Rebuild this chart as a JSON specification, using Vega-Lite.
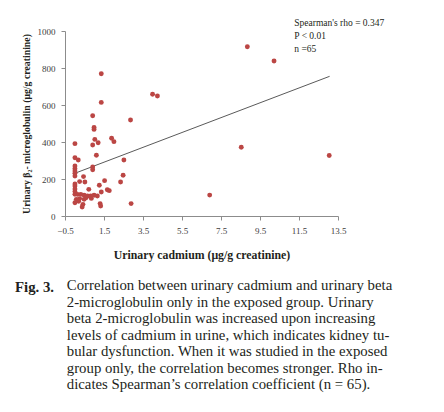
{
  "$schema": "https://vega.github.io/schema/vega-lite/v6.json",
  "width": 273,
  "height": 185,
  "autosize": {"type": "none"},
  "padding": {"left": 65, "top": 31, "right": 106, "bottom": 196},
  "background": "white",
  "config": {
    "view": {"stroke": null},
    "font": "Liberation Serif",
    "axis": {"labelOverlap": false, "labelBound": false, "labelFlush": false, "grid": false}
  },
  "title": {
    "text": "Fig. 3.",
    "subtitle": [
      "\u200b\u00a0\u00a0\u00a0\u00a0\u00a0\u00a0\u00a0\u00a0\u00a0\u00a0\u00a0\u00a0\u00a0\u00a0Correlation between urinary cadmium and urinary beta",
      "\u200b\u00a0\u00a0\u00a0\u00a0\u00a0\u00a0\u00a0\u00a0\u00a0\u00a0\u00a0\u00a0\u00a0\u00a02-microglobulin only in the exposed group. Urinary",
      "\u200b\u00a0\u00a0\u00a0\u00a0\u00a0\u00a0\u00a0\u00a0\u00a0\u00a0\u00a0\u00a0\u00a0\u00a0beta 2-microglobulin was increased upon increasing",
      "\u200b\u00a0\u00a0\u00a0\u00a0\u00a0\u00a0\u00a0\u00a0\u00a0\u00a0\u00a0\u00a0\u00a0\u00a0levels of cadmium in urine, which indicates kidney tu-",
      "\u200b\u00a0\u00a0\u00a0\u00a0\u00a0\u00a0\u00a0\u00a0\u00a0\u00a0\u00a0\u00a0\u00a0\u00a0bular dysfunction. When it was studied in the exposed",
      "\u200b\u00a0\u00a0\u00a0\u00a0\u00a0\u00a0\u00a0\u00a0\u00a0\u00a0\u00a0\u00a0\u00a0\u00a0group only, the correlation becomes stronger. Rho in-",
      "\u200b\u00a0\u00a0\u00a0\u00a0\u00a0\u00a0\u00a0\u00a0\u00a0\u00a0\u00a0\u00a0\u00a0\u00a0dicates Spearman’s correlation coefficient (n = 65)."
    ],
    "orient": "bottom",
    "anchor": "start",
    "frame": "group",
    "dx": -50,
    "offset": 19,
    "font": "Liberation Serif",
    "fontSize": 14.8,
    "fontWeight": "bold",
    "color": "#231f20",
    "lineHeight": 16.5,
    "subtitleFont": "Liberation Serif",
    "subtitleFontSize": 14.8,
    "subtitleFontWeight": "normal",
    "subtitleColor": "#231f20",
    "subtitleLineHeight": 16.5,
    "subtitlePadding": -16.5
  },
  "datasets": {
    "points": [
      {"cd": 1.36, "b2m": 769}, {"cd": 1.36, "b2m": 614}, {"cd": 0.92, "b2m": 542},
      {"cd": 0.99, "b2m": 478}, {"cd": 0.99, "b2m": 468}, {"cd": 2.86, "b2m": 519},
      {"cd": 1.03, "b2m": 414}, {"cd": 1.2, "b2m": 396}, {"cd": 0.92, "b2m": 384},
      {"cd": 1.89, "b2m": 420}, {"cd": 2.01, "b2m": 402}, {"cd": 0.01, "b2m": 391},
      {"cd": 0.01, "b2m": 315}, {"cd": 0.18, "b2m": 303}, {"cd": 1.11, "b2m": 328},
      {"cd": 2.52, "b2m": 303}, {"cd": 0.92, "b2m": 265}, {"cd": 0.92, "b2m": 250},
      {"cd": 0.01, "b2m": 270}, {"cd": 0.01, "b2m": 256}, {"cd": 0.01, "b2m": 243},
      {"cd": 0.01, "b2m": 231}, {"cd": 0.01, "b2m": 216}, {"cd": 2.48, "b2m": 220},
      {"cd": 0.45, "b2m": 213}, {"cd": 0.25, "b2m": 186}, {"cd": 0.52, "b2m": 184},
      {"cd": 0.01, "b2m": 173}, {"cd": 0.01, "b2m": 162}, {"cd": 1.53, "b2m": 191},
      {"cd": 1.26, "b2m": 166}, {"cd": 1.67, "b2m": 142}, {"cd": 1.77, "b2m": 137},
      {"cd": 2.35, "b2m": 184}, {"cd": 0.72, "b2m": 144}, {"cd": 0.01, "b2m": 146},
      {"cd": 0.01, "b2m": 132}, {"cd": 1.36, "b2m": 130}, {"cd": 0.01, "b2m": 117},
      {"cd": 0.14, "b2m": 117}, {"cd": 0.31, "b2m": 117}, {"cd": 0.48, "b2m": 112},
      {"cd": 0.65, "b2m": 108}, {"cd": 0.82, "b2m": 108}, {"cd": 0.99, "b2m": 112},
      {"cd": 1.16, "b2m": 108}, {"cd": 0.08, "b2m": 90}, {"cd": 0.25, "b2m": 94},
      {"cd": 0.48, "b2m": 90}, {"cd": 0.58, "b2m": 99}, {"cd": 0.01, "b2m": 72},
      {"cd": 0.42, "b2m": 63}, {"cd": 0.38, "b2m": 49}, {"cd": 1.3, "b2m": 67},
      {"cd": 1.33, "b2m": 54}, {"cd": 2.89, "b2m": 67}, {"cd": 0.2, "b2m": 80},
      {"cd": 0.85, "b2m": 95}, {"cd": 3.99, "b2m": 658}, {"cd": 4.24, "b2m": 649},
      {"cd": 8.85, "b2m": 915}, {"cd": 10.22, "b2m": 838}, {"cd": 8.54, "b2m": 372},
      {"cd": 13.05, "b2m": 327}, {"cd": 6.92, "b2m": 113}
    ],
    "trend": [
      {"cd": 0.01, "b2m": 231},
      {"cd": 13.07, "b2m": 755}
    ],
    "note": [
      {"label": "Spearman's rho = 0.347\nP < 0.01\nn =65", "cd": 11.26, "b2m": 1070}
    ]
  },
  "encoding": {
    "x": {
      "field": "cd", "type": "quantitative",
      "scale": {"domain": [-0.5, 13.5], "nice": false, "zero": false},
      "axis": {
        "values": [-0.5, 1.5, 3.5, 5.5, 7.5, 9.5, 11.5, 13.5],
        "format": ".1f",
        "title": "Urinary cadmium (μg/g creatinine)",
        "titleFont": "Liberation Serif",
        "titleFontSize": 11.8,
        "titleFontWeight": "bold",
        "titleColor": "#231f20",
        "titlePadding": 14,
        "labelFont": "Liberation Serif",
        "labelFontSize": 9,
        "labelColor": "#404040",
        "labelPadding": 6,
        "domainColor": "#8c8c8c",
        "tickColor": "#8c8c8c",
        "tickSize": 4
      }
    },
    "y": {
      "field": "b2m", "type": "quantitative",
      "scale": {"domain": [0, 1000], "nice": false},
      "axis": {
        "values": [0, 200, 400, 600, 800, 1000],
        "format": "d",
        "title": "Urinary β₂- microglobulin (μg/g creatinine)",
        "titleFont": "Liberation Serif",
        "titleFontSize": 9.8,
        "titleFontWeight": "bold",
        "titleColor": "#231f20",
        "titlePadding": 6,
        "labelFont": "Liberation Serif",
        "labelFontSize": 9,
        "labelColor": "#404040",
        "labelPadding": 6,
        "domainColor": "#8c8c8c",
        "tickColor": "#8c8c8c",
        "tickSize": 4
      }
    }
  },
  "layer": [
    {
      "data": {"name": "trend"},
      "mark": {"type": "line", "color": "#5a5a5a", "strokeWidth": 1}
    },
    {
      "data": {"name": "points"},
      "mark": {"type": "circle", "color": "#bb4644", "opacity": 1, "size": 24}
    },
    {
      "data": {"name": "note"},
      "mark": {
        "type": "text", "align": "left", "baseline": "top",
        "font": "Liberation Serif", "fontSize": 9.5, "lineHeight": 13,
        "lineBreak": "\n", "color": "#231f20"
      },
      "encoding": {
        "text": {"field": "label"}
      }
    }
  ]
}
